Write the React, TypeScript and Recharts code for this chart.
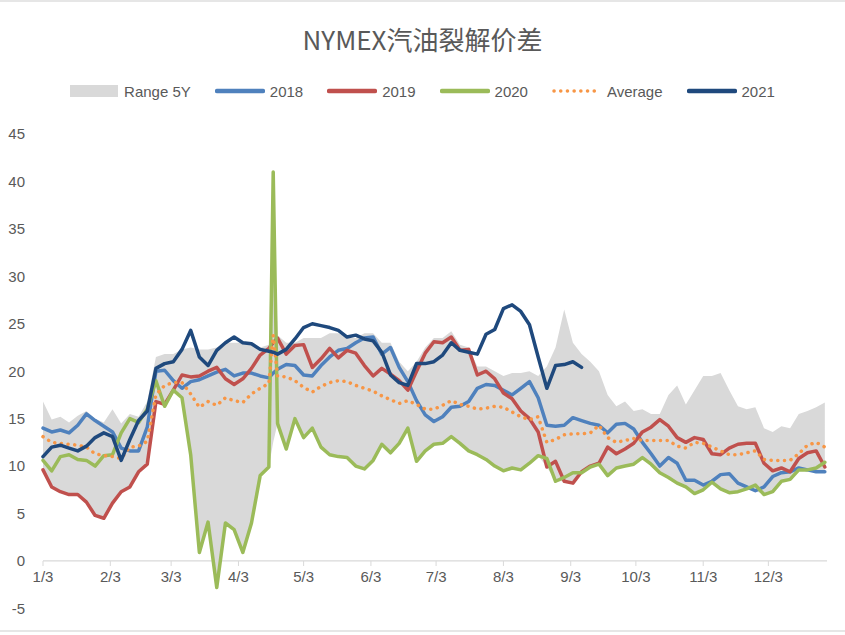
import { ComposedChart, Area, Line, XAxis, YAxis, ReferenceLine } from "recharts";

// day of year (3 = Jan 3); one extra point on day 109 for the April 2020 spike
const days = [
  3, 7, 11, 15, 19, 23, 27, 31, 35, 39, 43, 47, 51, 55, 59, 63, 67, 71, 75, 79,
  83, 87, 91, 95, 99, 103, 107, 109, 111, 115, 119, 123, 127, 131, 135, 139, 143,
  147, 151, 155, 159, 163, 167, 171, 175, 179, 183, 187, 191, 195, 199, 203, 207,
  211, 215, 219, 223, 227, 231, 235, 239, 243, 247, 251, 255, 259, 263, 267, 271,
  275, 279, 283, 287, 291, 295, 299, 303, 307, 311, 315, 319, 323, 327, 331, 335,
  339, 343, 347, 351, 355, 359, 363,
];

const tickDays = [3, 34, 62, 93, 123, 154, 184, 215, 246, 276, 307, 337];
const tickLabels = ["1/3", "2/3", "3/3", "4/3", "5/3", "6/3", "7/3", "8/3", "9/3", "10/3", "11/3", "12/3"];
const yTicks = [-5, 0, 5, 10, 15, 20, 25, 30, 35, 40, 45];

const rangeLow = [
  9.6, 7.8, 7.3, 7.0, 7.0, 6.2, 4.8, 4.5, 6.1, 7.3,
  7.8, 9.4, 10.2, 16.8, 16.3, 18.0, 17.2, 11.2, 0.9, 4.1,
  -2.8, 4.0, 3.3, 0.9, 4.0, 9.0, 9.9,
  12.5,
  14.5, 11.8, 15.0, 13.0, 14.0, 12.0, 11.2, 11.0, 10.9, 10.0,
  9.7, 10.6, 12.3, 11.4, 12.4, 14.0, 10.5, 11.6, 12.3, 12.4,
  13.1, 12.4, 11.6, 11.2, 10.7, 10.0, 9.5, 9.8, 9.6, 10.3,
  11.1, 9.9, 8.4, 8.4, 8.2, 9.3, 9.9, 10.2, 9.0, 9.8,
  10.0, 10.2, 10.9, 10.2, 9.3, 8.8, 8.2, 7.8, 7.1, 7.5,
  8.3, 7.6, 7.2, 7.3, 7.6, 7.4, 7.0, 7.3, 8.4, 8.6,
  9.6, 9.6, 9.4, 9.4,
];

const rangeHigh = [
  16.8, 14.9, 15.2, 14.6, 15.3, 15.8, 15.0, 14.6, 16.0, 14.5,
  15.5, 15.2, 16.8, 21.5, 21.8, 21.8, 22.3, 22.5, 22.3, 22.3,
  22.5, 23.0, 23.0, 23.0, 23.0, 22.5, 22.8,
  41.0,
  23.8, 23.0, 23.0, 23.5, 23.5, 23.5, 24.0, 24.0, 23.5, 23.5,
  24.0, 24.0, 23.0, 23.0, 21.0, 20.0, 21.0, 22.5, 23.5, 23.5,
  24.2, 22.8, 22.5, 20.5, 20.5, 20.0, 19.5, 19.8, 19.8, 20.0,
  19.5, 20.5, 22.5, 26.5, 23.0, 21.8, 21.0, 20.0, 17.5, 16.3,
  16.8, 15.8, 16.0, 15.5, 15.5, 17.5, 18.5, 16.5, 18.0, 19.5,
  19.5, 19.8, 18.0, 16.3, 16.0, 16.2, 14.0, 13.6, 14.2, 14.0,
  15.5, 15.8, 16.2, 16.7,
];

const y2018 = [
  14.0, 13.6, 13.8, 13.5, 14.3, 15.5, 14.8, 14.2, 13.6, 11.9,
  11.6, 11.6, 14.1, 20.0, 20.1, 19.0, 18.2, 18.9, 19.1, 19.5,
  19.9, 20.2, 19.5, 19.8, 19.8, 19.5, 19.3,
  19.8,
  20.2, 20.7, 20.6, 19.6, 19.5, 20.6, 21.5, 22.2, 22.4, 23.0,
  23.5, 23.6, 21.8, 22.5, 20.4, 18.9, 16.9, 15.4, 14.7, 15.2,
  16.2, 16.3, 16.8, 18.2, 18.6, 18.5, 18.0, 17.5, 18.2, 18.9,
  17.2, 14.3, 14.2, 14.3, 15.1, 14.8, 14.5, 14.3, 13.5, 14.4,
  14.5, 13.9, 12.5, 11.3, 10.0, 10.9, 10.3, 8.5, 8.5, 8.0,
  8.4, 9.1, 9.2, 8.2, 7.8, 7.4, 7.8, 8.9, 9.3, 9.4,
  9.8, 9.6, 9.4, 9.4,
];

const y2019 = [
  9.6, 7.8, 7.3, 7.0, 7.0, 6.2, 4.8, 4.5, 6.1, 7.3,
  7.8, 9.4, 10.2, 16.8, 16.5, 18.0, 19.6, 19.4, 19.5, 20.0,
  20.4, 19.2, 18.6, 19.2, 20.3, 21.7, 22.4,
  23.0,
  23.5, 21.8, 22.7, 22.8, 20.4, 21.3, 22.4, 21.4, 22.2, 21.9,
  20.6, 19.5, 20.3, 19.7, 19.0, 18.0, 20.0, 21.9, 23.1, 23.0,
  23.6, 22.2, 22.3, 19.6, 20.0, 19.2, 17.7, 17.1, 15.8, 15.0,
  13.6, 9.9, 10.5, 8.4, 8.2, 9.4, 10.0, 10.3, 12.0, 11.3,
  11.8, 12.4, 13.6, 14.1, 14.9, 14.2, 13.0, 12.5, 13.0, 12.8,
  11.3, 11.2, 11.9, 12.3, 12.4, 12.4, 10.3, 9.5, 9.8, 9.4,
  10.8, 11.4, 11.6, 9.9,
];

const y2020 = [
  10.6, 9.5, 11.0, 11.2, 10.7, 10.6, 10.0, 11.1, 11.2, 13.5,
  15.0, 14.6, 16.0, 19.0, 16.3, 18.0, 17.2, 11.2, 0.9, 4.1,
  -2.8, 4.0, 3.3, 0.9, 4.0, 9.0, 9.9,
  41.0,
  14.5, 11.8, 15.0, 13.0, 14.0, 12.0, 11.2, 11.0, 10.9, 10.0,
  9.7, 10.6, 12.3, 11.4, 12.4, 14.0, 10.5, 11.6, 12.3, 12.4,
  13.1, 12.4, 11.6, 11.2, 10.7, 10.0, 9.5, 9.8, 9.6, 10.3,
  11.1, 10.8, 8.4, 8.8, 9.3, 9.3, 9.9, 10.2, 9.0, 9.8,
  10.0, 10.2, 10.9, 10.2, 9.3, 8.8, 8.2, 7.8, 7.1, 7.5,
  8.3, 7.6, 7.2, 7.3, 7.6, 8.0, 7.0, 7.3, 8.4, 8.6,
  9.6, 9.6, 9.8, 10.4,
];

const average = [
  13.1, 12.5, 12.4, 12.3, 12.2, 12.0, 11.3, 11.1, 11.0, 10.8,
  12.0, 12.1, 12.6, 17.5, 18.5, 18.8, 18.8, 17.6, 16.2, 16.8,
  16.4, 17.2, 16.9, 16.7, 17.6, 18.2, 18.7,
  23.8,
  19.5, 19.4, 19.0, 18.3, 17.8, 18.4, 18.8, 19.0, 18.9, 18.5,
  18.2, 17.9, 17.4, 17.0, 16.6, 16.9, 16.5, 16.0, 16.0, 16.4,
  16.9, 16.5, 16.3, 16.0, 16.1, 16.3, 16.2, 15.7, 15.2, 14.9,
  15.2, 12.5, 12.8, 13.3, 13.4, 13.4, 13.5, 14.3, 13.0, 12.5,
  12.7, 12.9, 12.7, 12.7, 12.7, 12.7, 12.1, 11.9, 12.5, 12.4,
  12.0, 11.6, 11.2, 11.2, 11.4, 11.6, 10.7, 10.6, 10.6, 10.6,
  11.3, 12.2, 12.5, 12.0,
];

const y2021 = [
  11.0, 12.0, 12.2, 11.9, 11.6, 12.1, 13.0, 13.5, 13.1, 10.6,
  12.8, 14.8, 15.8, 20.3, 20.8, 21.0, 22.3, 24.3, 21.5, 20.6,
  22.2, 23.0, 23.6, 23.0, 22.9, 22.3, 22.1,
  22.0,
  21.8, 22.3, 23.4, 24.6, 25.0, 24.8, 24.6, 24.3, 23.6, 23.8,
  23.4, 23.2, 22.0, 19.6, 18.8, 18.5, 20.8, 20.8, 21.0, 21.7,
  23.0, 22.2, 22.0, 21.8, 23.9, 24.4, 26.6, 27.0, 26.3, 24.9,
  21.5, 18.2, 20.6, 20.7, 21.0, 20.4,
  null, null, null, null, null, null, null, null, null, null,
  null, null, null, null, null, null, null, null, null, null,
  null, null, null, null, null, null, null, null,
];

const TEXT = "#595959";
const AXIS = "#D9D9D9";

const lines = [
  { key: "y2018", name: "2018", color: "#4F81BD", dotted: false },
  { key: "y2019", name: "2019", color: "#C0504D", dotted: false },
  { key: "y2020", name: "2020", color: "#9BBB59", dotted: false },
  { key: "average", name: "Average", color: "#F79646", dotted: true },
  { key: "y2021", name: "2021", color: "#1F497D", dotted: false },
];

const data = days.map((day, i) => ({
  day,
  range: [rangeLow[i], rangeHigh[i]],
  y2018: y2018[i],
  y2019: y2019[i],
  y2020: y2020[i],
  average: average[i],
  y2021: y2021[i],
}));

function Swatch({ color, dotted }: { color: string; dotted: boolean }) {
  return (
    <svg width={50} height={12} style={{ marginRight: 5 }}>
      <line
        x1={2}
        y1={6}
        x2={48}
        y2={6}
        stroke={color}
        strokeWidth={dotted ? 3.5 : 4.5}
        strokeLinecap="round"
        strokeDasharray={dotted ? "0.1 6.6" : undefined}
      />
    </svg>
  );
}

function ChartLegend() {
  return (
    <div
      style={{
        position: "absolute",
        top: 82,
        left: 0,
        width: 845,
        height: 18,
        display: "flex",
        justifyContent: "center",
        alignItems: "center",
        fontSize: 15,
        color: TEXT,
      }}
    >
      <div style={{ display: "flex", alignItems: "center", marginRight: 24 }}>
        <div style={{ width: 48, height: 12, background: AXIS, marginRight: 6 }} />
        <span>Range 5Y</span>
      </div>
      {lines.map((l, i) => (
        <div
          key={l.key}
          style={{ display: "flex", alignItems: "center", marginRight: i < lines.length - 1 ? 24 : 0 }}
        >
          <Swatch color={l.color} dotted={l.dotted} />
          <span>{l.name}</span>
        </div>
      ))}
    </div>
  );
}

export default function App() {
  return (
    <div
      style={{
        position: "absolute",
        left: 0,
        top: 0,
        width: 845,
        height: 635,
        background: "#fff",
        fontFamily: '"Liberation Sans", Arial, sans-serif',
      }}
    >
      <ComposedChart
        width={845}
        height={635}
        data={data}
        margin={{ top: 134, right: 18, bottom: 26.6, left: 0 }}
      >
        <XAxis type="number" dataKey="day" domain={[3, 364]} hide />
        <YAxis
          domain={[-5, 45]}
          ticks={yTicks}
          interval={0}
          axisLine={false}
          tickLine={false}
          width={43}
          tickMargin={12}
          tick={{ fill: TEXT, fontSize: 15 }}
        />
        <Area
          dataKey="range"
          type="linear"
          stroke="none"
          fill={AXIS}
          fillOpacity={1}
          isAnimationActive={false}
        />
        <ReferenceLine y={0} stroke={AXIS} strokeWidth={1.2} />
        {tickDays.map((d, i) => (
          <ReferenceLine
            key={d}
            segment={[
              { x: d, y: 0 },
              { x: d, y: -0.53 },
            ]}
            stroke={AXIS}
            label={{ value: tickLabels[i], position: "bottom", offset: 5, fill: TEXT, fontSize: 15 }}
          />
        ))}
        {lines.map((l) => (
          <Line
            key={l.key}
            dataKey={l.key}
            name={l.name}
            type="linear"
            stroke={l.color}
            strokeWidth={3.5}
            strokeLinecap="round"
            strokeLinejoin="round"
            strokeDasharray={l.dotted ? "0.1 6.6" : undefined}
            dot={false}
            activeDot={false}
            isAnimationActive={false}
          />
        ))}
      </ComposedChart>
      <div style={{ position: "absolute", left: 0, top: 0, width: 845, height: 2, background: "#E6E6E6" }} />
      <div style={{ position: "absolute", left: 0, top: 630, width: 845, height: 2, background: "#E6E6E6" }} />
      <div
        style={{
          position: "absolute",
          top: 25,
          left: 0,
          width: 845,
          textAlign: "center",
          fontSize: 26,
          lineHeight: "28px",
          color: TEXT,
          fontFamily: '"Liberation Sans Narrow", "Noto Sans CJK SC", sans-serif',
        }}
      >
        NYMEX汽油裂解价差
      </div>
      <ChartLegend />
    </div>
  );
}
